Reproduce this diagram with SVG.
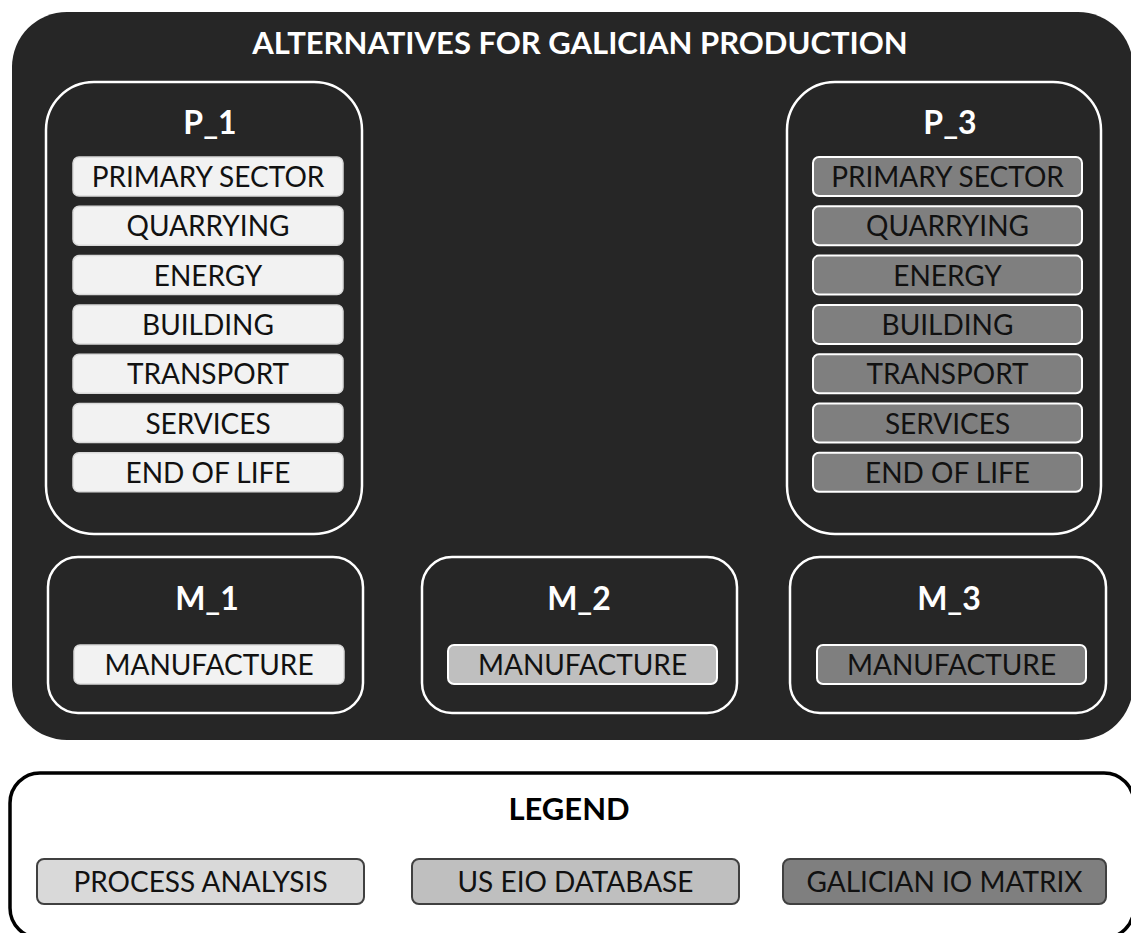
<svg xmlns="http://www.w3.org/2000/svg" width="1131" height="933" viewBox="0 0 1131 933">
<style>
.t{font-family:Lato,"Open Sans","Liberation Sans",sans-serif;text-anchor:middle}
.title{font-size:31px;font-weight:bold;fill:#ffffff}
.lab{font-size:32px;font-weight:bold;fill:#ffffff}
.it{font-size:28px;fill:#111111}
.grp{fill:none;stroke:#ffffff;stroke-width:2.5}
.light{fill:#f2f2f2;stroke:#d9d9d9;stroke-width:1.5}
.mid{fill:#bfbfbf;stroke:#ffffff;stroke-width:2}
.dark{fill:#7f7f7f;stroke:#ffffff;stroke-width:2}
.lg{stroke:#404040;stroke-width:2}
</style>
<rect x="0" y="0" width="1131" height="933" fill="#ffffff"/>
<g id="main">
<rect x="12" y="12" width="1121" height="728" rx="55" fill="#262626"/>
<text class="t title" x="580" y="54">ALTERNATIVES FOR GALICIAN PRODUCTION</text>
</g>
<g id="P_1">
<rect class="grp" x="46" y="82" width="316" height="452" rx="48"/>
<text class="t lab" x="210" y="134">P_1</text>
<rect class="light" x="73" y="157" width="270" height="39" rx="6"/><text class="t it" x="208" y="187">PRIMARY SECTOR</text>
<rect class="light" x="73" y="206.3" width="270" height="39" rx="6"/><text class="t it" x="208" y="236.3">QUARRYING</text>
<rect class="light" x="73" y="255.6" width="270" height="39" rx="6"/><text class="t it" x="208" y="285.6">ENERGY</text>
<rect class="light" x="73" y="304.9" width="270" height="39" rx="6"/><text class="t it" x="208" y="334.9">BUILDING</text>
<rect class="light" x="73" y="354.2" width="270" height="39" rx="6"/><text class="t it" x="208" y="384.2">TRANSPORT</text>
<rect class="light" x="73" y="403.5" width="270" height="39" rx="6"/><text class="t it" x="208" y="433.5">SERVICES</text>
<rect class="light" x="73" y="452.8" width="270" height="39" rx="6"/><text class="t it" x="208" y="482.8">END OF LIFE</text>
</g>
<g id="P_3">
<rect class="grp" x="787" y="82" width="314" height="452" rx="48"/>
<text class="t lab" x="950" y="134">P_3</text>
<rect class="dark" x="813" y="157" width="269" height="39" rx="6"/><text class="t it" x="947.5" y="187">PRIMARY SECTOR</text>
<rect class="dark" x="813" y="206.3" width="269" height="39" rx="6"/><text class="t it" x="947.5" y="236.3">QUARRYING</text>
<rect class="dark" x="813" y="255.6" width="269" height="39" rx="6"/><text class="t it" x="947.5" y="285.6">ENERGY</text>
<rect class="dark" x="813" y="304.9" width="269" height="39" rx="6"/><text class="t it" x="947.5" y="334.9">BUILDING</text>
<rect class="dark" x="813" y="354.2" width="269" height="39" rx="6"/><text class="t it" x="947.5" y="384.2">TRANSPORT</text>
<rect class="dark" x="813" y="403.5" width="269" height="39" rx="6"/><text class="t it" x="947.5" y="433.5">SERVICES</text>
<rect class="dark" x="813" y="452.8" width="269" height="39" rx="6"/><text class="t it" x="947.5" y="482.8">END OF LIFE</text>
</g>
<g id="M_1">
<rect class="grp" x="48" y="557" width="315" height="156" rx="30"/>
<text class="t lab" x="207" y="610">M_1</text>
<rect class="light" x="74" y="645" width="270" height="39" rx="6"/><text class="t it" x="209" y="675">MANUFACTURE</text>
</g>
<g id="M_2">
<rect class="grp" x="422" y="557" width="315" height="156" rx="30"/>
<text class="t lab" x="579" y="610">M_2</text>
<rect class="mid" x="448" y="645" width="269" height="39" rx="6"/><text class="t it" x="582.5" y="675">MANUFACTURE</text>
</g>
<g id="M_3">
<rect class="grp" x="790" y="557" width="316" height="156" rx="30"/>
<text class="t lab" x="949" y="610">M_3</text>
<rect class="dark" x="817" y="645" width="269" height="39" rx="6"/><text class="t it" x="951.5" y="675">MANUFACTURE</text>
</g>
<g id="legend">
<rect x="10" y="773" width="1124" height="165" rx="30" fill="#ffffff" stroke="#000000" stroke-width="3.5"/>
<text class="t" x="569" y="820" font-size="31" font-weight="bold" fill="#000000">LEGEND</text>
<rect class="lg" x="37" y="859" width="327" height="45" rx="7" fill="#d9d9d9"/><text class="t it" x="200.5" y="892">PROCESS ANALYSIS</text>
<rect class="lg" x="412" y="859" width="327" height="45" rx="7" fill="#bfbfbf"/><text class="t it" x="575.5" y="892">US EIO DATABASE</text>
<rect class="lg" x="783" y="859" width="323" height="45" rx="7" fill="#7f7f7f"/><text class="t it" x="944.5" y="892">GALICIAN IO MATRIX</text>
</g>
<g id="connectors"></g>
</svg>
